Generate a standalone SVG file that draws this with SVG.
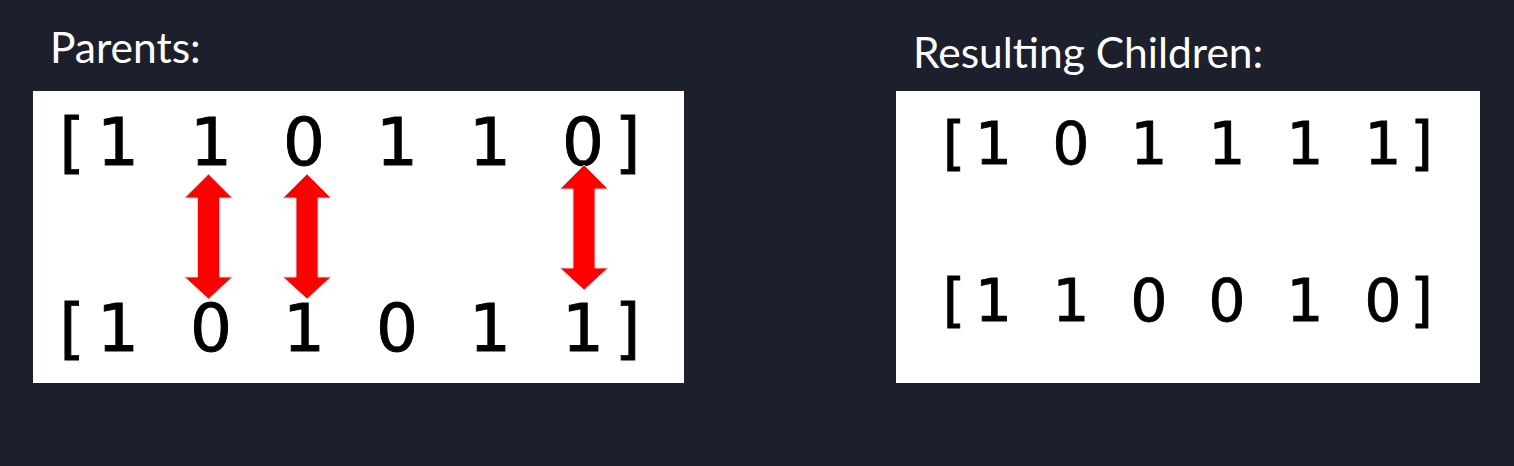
<svg xmlns="http://www.w3.org/2000/svg" width="1514" height="466" viewBox="0 0 1514 466">
<style>
.title{font-family:Lato,"Open Sans","Liberation Sans",sans-serif;font-size:42.5px;fill:#ffffff}
.box{fill:#ffffff}
.bits{font-family:"DejaVu Sans","Liberation Sans",sans-serif;fill:#000000;stroke:#000000;stroke-width:0.9px;text-anchor:middle}
.big{font-size:66px}
.small{font-size:58px}
.swap{fill:#ff0000;stroke:#d8d8d8;stroke-width:1}
</style>
<defs>
<path id="dbl" d="M0,0 L24,24 L11,24 L11,103 L24,103 L0,125 L-24,103 L-11,103 L-11,24 L-24,24 Z"/>
</defs>
<rect x="0" y="0" width="1514" height="466" fill="#1c202d"/>
<g id="parents">
<text class="title" x="50" y="63">Parents:</text>
<rect class="box" x="33" y="91" width="651" height="292"/>
<text class="bits big" y="165" x="72 118 164.5 211 257.5 304 350.5 397 443.5 490 536.5 583 627.5">[1 1 0 1 1 0]</text>
<text class="bits big" y="351" x="72 118 164.5 211 257.5 304 350.5 397 443.5 490 536.5 583 627.5">[1 0 1 0 1 1]</text>
</g>
<g id="children">
<text class="title" x="913" y="68">Resulting Children:</text>
<rect class="box" x="896" y="91" width="584" height="292"/>
<text class="bits small" y="163.5" x="954 993.5 1032 1071 1110 1149 1188 1227 1266 1305 1344 1383 1421.5">[1 0 1 1 1 1]</text>
<text class="bits small" y="321" x="954 993.5 1032 1071 1110 1149 1188 1227 1266 1305 1344 1383 1421.5">[1 1 0 0 1 0]</text>
</g>
<g id="connectors">
<use href="#dbl" class="swap" x="208.5" y="174"/>
<use href="#dbl" class="swap" x="307" y="174"/>
<use href="#dbl" class="swap" x="584" y="165"/>
</g>
</svg>
